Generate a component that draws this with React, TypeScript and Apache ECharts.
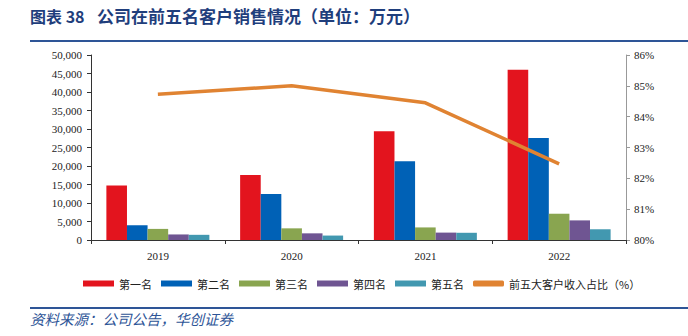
import React, { useEffect, useRef } from "react";
import * as echarts from "echarts";

const years = ["2019", "2020", "2021", "2022"];
const rank1 = [14700, 17600, 29400, 46000];
const rank2 = [4000, 12400, 21300, 27600];
const rank3 = [3000, 3150, 3400, 7100];
const rank4 = [1500, 1800, 2000, 5300];
const rank5 = [1400, 1200, 1950, 2900];
const top5Share = [84.73, 85.0, 84.45, 82.47];

const barNames = ["第一名", "第二名", "第三名", "第四名", "第五名"];
const barData = [rank1, rank2, rank3, rank4, rank5];
const barColors = ["#E3141E", "#0061B6", "#89A550", "#6F5592", "#4298B0"];
const lineName = "前五大客户收入占比（%）";

export default function App() {
  const ref = useRef<HTMLDivElement>(null);
  useEffect(() => {
    if (!ref.current) return;
    const chart = echarts.init(ref.current, null, { renderer: "svg" });
    const serif = "'Liberation Serif', 'Times New Roman', serif";
    const cjk = "'Noto Sans CJK SC', sans-serif";
    chart.setOption({
      animation: false,
      grid: { left: 91, right: 62, top: 55, bottom: 96 },
      graphic: [
        {
          type: "text",
          left: 30,
          top: 8,
          style: {
            text: "图表 38",
            font: `bold 16px ${cjk}`,
            fill: "#1F3E7C",
          },
        },
        {
          type: "text",
          left: 97,
          top: 7,
          style: {
            text: "公司在前五名客户销售情况（单位：万元）",
            font: `bold 17px ${cjk}`,
            fill: "#1F3E7C",
          },
        },
        {
          type: "rect",
          shape: { x: 30, y: 40, width: 658, height: 2 },
          style: { fill: "#2E5597" },
        },
        {
          type: "rect",
          shape: { x: 30, y: 307, width: 658, height: 2 },
          style: { fill: "#2E5597" },
        },
        {
          type: "text",
          left: 30,
          top: 311,
          style: {
            text: "资料来源：公司公告，华创证券",
            font: `italic 14.5px ${cjk}`,
            fill: "#2E5597",
          },
        },
      ],
      legend: {
        left: 78,
        top: 273,
        itemWidth: 31,
        itemHeight: 6,
        itemGap: 9,
        textStyle: { fontFamily: cjk, fontSize: 11, color: "#222" },
        data: [
          ...barNames.map((n) => ({ name: n, icon: "rect" })),
          { name: lineName, icon: "roundRect", itemStyle: { color: "#E08332" } },
        ],
      },
      xAxis: {
        type: "category",
        data: years,
        axisLine: { lineStyle: { color: "#333", width: 1 } },
        axisTick: { show: true, alignWithLabel: false, length: 4, lineStyle: { color: "#333" } },
        axisLabel: { fontFamily: serif, fontSize: 11, color: "#222", margin: 10 },
      },
      yAxis: [
        {
          type: "value",
          min: 0,
          max: 50000,
          interval: 5000,
          axisLine: { show: true, lineStyle: { color: "#333" } },
          axisTick: { show: true, length: 4, lineStyle: { color: "#333" } },
          splitLine: { show: false },
          axisLabel: {
            fontFamily: serif,
            fontSize: 11,
            color: "#222",
            margin: 9,
            formatter: (v: number) => v.toLocaleString("en-US"),
          },
        },
        {
          type: "value",
          min: 80,
          max: 86,
          interval: 1,
          position: "right",
          axisLine: { show: true, lineStyle: { color: "#999" } },
          axisTick: { show: true, length: 4, lineStyle: { color: "#999" } },
          splitLine: { show: false },
          axisLabel: {
            fontFamily: serif,
            fontSize: 11,
            color: "#222",
            margin: 8,
            formatter: (v: number) => `${v}%`,
          },
        },
      ],
      series: [
        ...barNames.map((n, i) => ({
          name: n,
          type: "bar",
          data: barData[i],
          barGap: "0%",
          barCategoryGap: "23%",
          itemStyle: { color: barColors[i] },
        })),
        {
          name: lineName,
          type: "line",
          yAxisIndex: 1,
          data: top5Share,
          symbol: "none",
          lineStyle: { color: "#E08332", width: 3.5 },
          itemStyle: { color: "#E08332" },
        },
      ],
    });
    return () => chart.dispose();
  }, []);
  return (
    <div
      ref={ref}
      style={{ position: "absolute", left: 0, top: 0, width: 688, height: 336 }}
    />
  );
}
